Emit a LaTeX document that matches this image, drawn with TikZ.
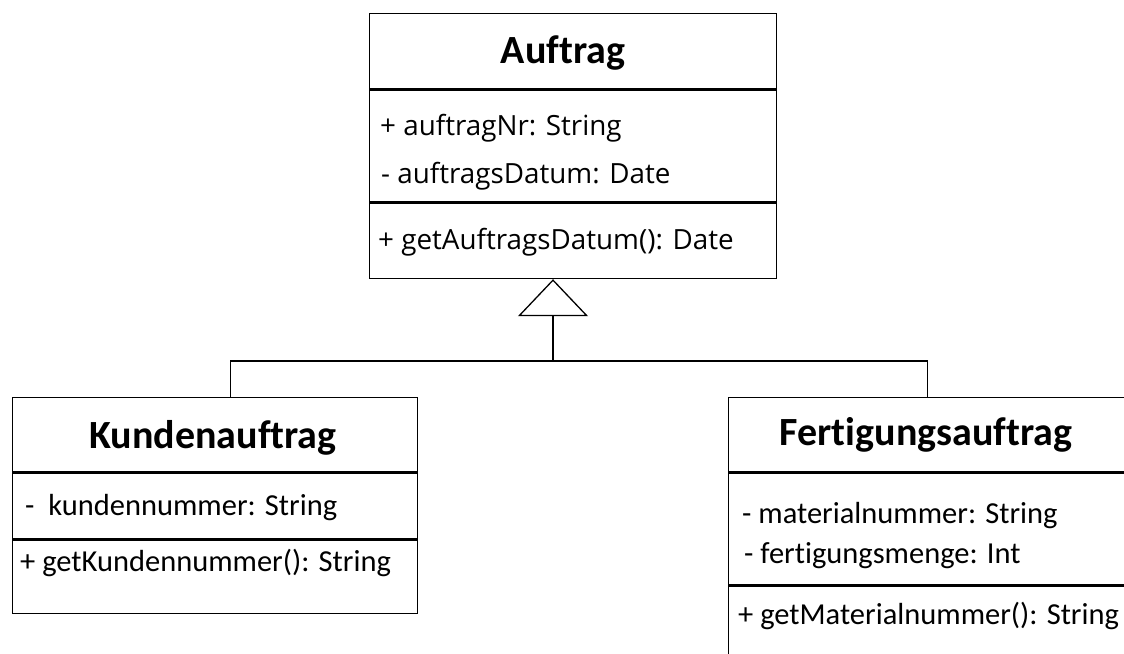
\documentclass[tikz,border=0pt]{standalone}
\usepackage{fontspec}
\setmainfont{Carlito}[Ligatures=NoCommon]
\newfontfamily\segoe{Open Sans}
\usetikzlibrary{arrows.meta}

\tikzset{
  umlpart/.style={draw, line width=1.4pt, anchor=north west, inner sep=0pt, minimum width=#1},
  umltitle/.style={anchor=base, inner sep=0pt, font=\fontsize{40}{40}\selectfont\bfseries},
  umlattr/.style={anchor=base west, inner sep=0pt, font=\fontsize{30.5}{32}\selectfont},
  topattr/.style={anchor=base west, inner sep=0pt, font=\segoe\fontsize{27.8}{28}\selectfont},
  conn/.style={draw, line width=1.3pt},
}

\begin{document}
\begin{tikzpicture}[x=1pt, y=-1pt]
\clip (0,0) rectangle (1124,653);
% Auftrag
\node[umlpart=407pt, minimum height=75pt] (auftrag) at (369,13) {};
\node[umlpart=407pt, minimum height=112pt] (auftragattr) at (auftrag.south west) {};
\node[umlpart=407pt, minimum height=75pt] (auftragop) at (auftragattr.south west) {};
\node[umltitle] (auftragname) at (563,63) {Auftrag};
\node[topattr] (auftragnr) at (380,135) {+ auftragNr: String};
\node[topattr] (auftragsdatum) at (381,183) {- auftragsDatum: Date};
\node[topattr] (getdatum) at (378,249) {+ getAuftragsDatum(): Date};
% Kundenauftrag
\node[umlpart=405pt, minimum height=74pt] (kunde) at (12,397) {};
\node[umlpart=405pt, minimum height=66pt] (kundeattr) at (kunde.south west) {};
\node[umlpart=405pt, minimum height=73pt] (kundeop) at (kundeattr.south west) {};
\node[umltitle] (kundename) at (213,448) {Kundenauftrag};
\node[umlattr] (kundennr) at (25,515) {-\ \ kundennummer: String};
\node[umlattr] (getkunde) at (20,571) {+ getKundennummer(): String};
% Fertigungsauftrag
\node[umlpart=398pt, minimum height=74pt] (fertig) at (728,397) {};
\node[umlpart=398pt, minimum height=112pt] (fertigattr) at (fertig.south west) {};
\node[umlpart=398pt, minimum height=120pt] (fertigop) at (fertigattr.south west) {};
\node[umltitle] (fertigname) at (926,445) {Fertigungsauftrag};
\node[umlattr] (materialnr) at (742,523) {- materialnummer: String};
\node[umlattr] (menge) at (744,563) {- fertigungsmenge: Int};
\node[umlattr] (getmaterial) at (738,624) {+ getMaterialnummer(): String};
% Vererbung
\coordinate (split) at (553,361);
\draw[conn] ([xshift=15.5pt]kunde.north) |- (split) -| (fertig.north);
\draw[conn, -{Triangle[open, length=37pt, width=70pt]}] (split) -- (split |- auftragop.south);
\end{tikzpicture}
\end{document}
